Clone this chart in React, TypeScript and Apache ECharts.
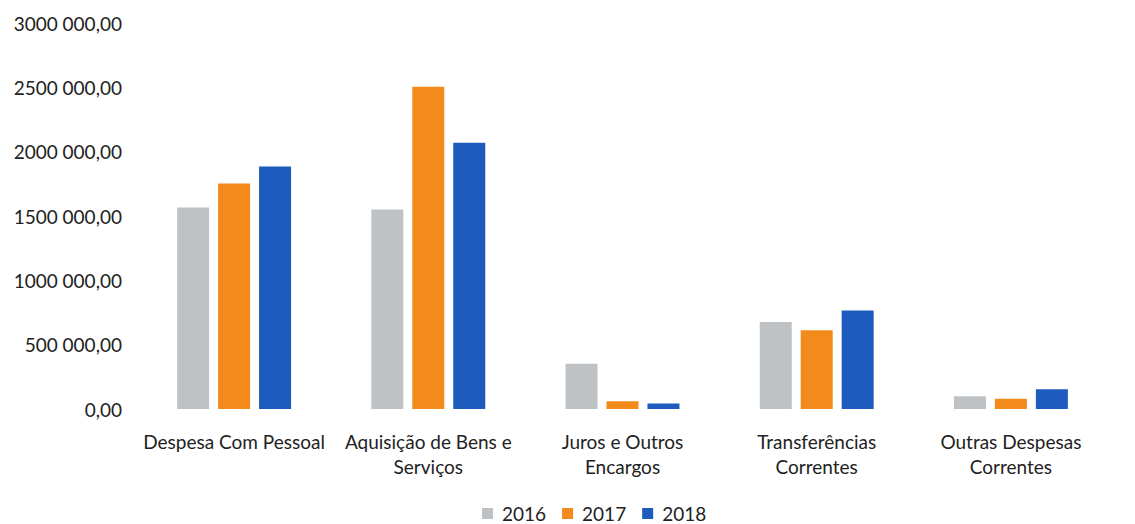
import React, { useEffect, useRef } from "react";
import * as echarts from "echarts";

const categories = [
  "Despesa Com Pessoal",
  "Aquisição de Bens e\nServiços",
  "Juros e Outros\nEncargos",
  "Transferências\nCorrentes",
  "Outras Despesas\nCorrentes",
];
const years = ["2016", "2017", "2018"];
const values2016 = [1566000, 1550000, 352000, 677000, 100000];
const values2017 = [1752000, 2504000, 60000, 612000, 80000];
const values2018 = [1884000, 2070000, 42000, 765000, 153000];
const colors = ["#BEC2C4", "#F28A1C", "#1D5BBE"];

const FONT = "Lato, 'Open Sans', sans-serif";

function fmt(v: number): string {
  if (v === 0) return "0,00";
  const th = Math.floor(v / 1000);
  const rest = String(v % 1000).padStart(3, "0");
  return `${th} ${rest},00`;
}

export default function App() {
  const ref = useRef<HTMLDivElement>(null);
  useEffect(() => {
    if (!ref.current) return;
    const chart = echarts.init(ref.current, undefined, { renderer: "svg" });
    const seriesData = [values2016, values2017, values2018];
    chart.setOption({
      animation: false,
      backgroundColor: "#ffffff",
      textStyle: { fontFamily: FONT },
      grid: { left: 137, right: 27, top: 23, bottom: 115, containLabel: false },
      legend: {
        top: 504,
        left: 482,
        padding: 0,
        itemWidth: 11,
        itemHeight: 11,
        itemGap: 16,
        icon: "rect",
        textStyle: { fontSize: 19, color: "#222", fontFamily: FONT, padding: [0, 0, 0, 4] },
        data: years,
      },
      xAxis: {
        type: "category",
        data: categories,
        axisLine: { show: false },
        axisTick: { show: false },
        axisLabel: {
          interval: 0,
          margin: 20,
          fontSize: 19,
          lineHeight: 25,
          color: "#222",
          fontFamily: FONT,
        },
      },
      yAxis: {
        type: "value",
        min: 0,
        max: 3000000,
        interval: 500000,
        splitLine: { show: false },
        axisLine: { show: false },
        axisTick: { show: false },
        axisLabel: {
          margin: 15,
          fontSize: 19,
          color: "#222",
          fontFamily: FONT,
          formatter: (v: number) => fmt(v),
        },
      },
      series: years.map((y, i) => ({
        name: y,
        type: "bar",
        data: seriesData[i],
        barWidth: 32,
        barGap: "28%",
        itemStyle: { color: colors[i] },
      })),
    });
    return () => chart.dispose();
  }, []);
  return (
    <div
      ref={ref}
      style={{ width: 1135, height: 524, marginTop: -8, marginLeft: -8, marginRight: 0, marginBottom: 0 }}
    />
  );
}
